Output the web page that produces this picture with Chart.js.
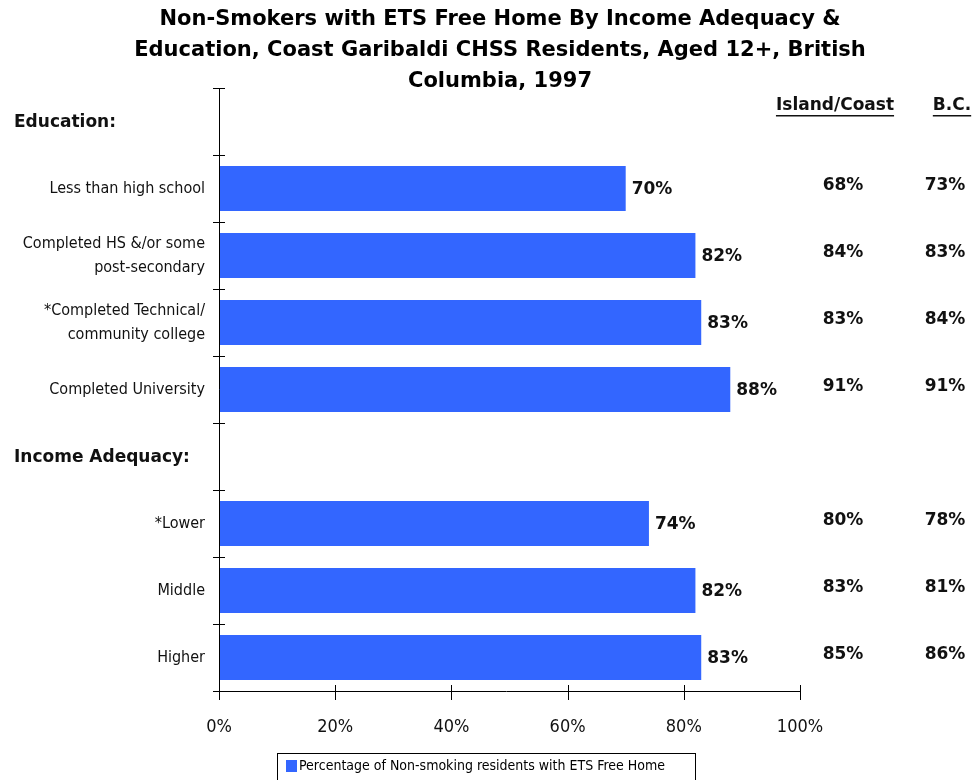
<!DOCTYPE html>
<html>
<head>
<meta charset="utf-8">
<script src="https://cdn.jsdelivr.net/npm/chart.js@4.4.0/dist/chart.umd.min.js"></script>
<style>
html,body{margin:0;padding:0;background:#fff;}
#wrap{width:975px;height:780px;position:relative;}
</style>
</head>
<body>
<div id="wrap"><canvas id="c" width="975" height="780"></canvas></div>
<script>
// ---- data ----
const titleLines = ['Non-Smokers with ETS Free Home By Income Adequacy &',
  'Education, Coast Garibaldi CHSS Residents, Aged 12+, British',
  'Columbia, 1997'];
const categories = ['', 'Less than high school', ['Completed HS &/or some','post-secondary'],
  ['*Completed Technical/','community college'], 'Completed University',
  '', '*Lower', 'Middle', 'Higher'];
const sectionHeaders = ['Education:', null, null, null, null, 'Income Adequacy:', null, null, null];
const garibaldi = [null, 70, 82, 83, 88, null, 74, 82, 83];
const islandCoast = [null, 68, 84, 83, 91, null, 80, 83, 85];
const bc = [null, 73, 83, 84, 91, null, 78, 81, 86];
const compareHeaders = ['Island/Coast', 'B.C.'];
const xTicks = [0, 20, 40, 60, 80, 100];
const seriesName = 'Percentage of Non-smoking residents with ETS Free Home';

const BLUE = '#3366FF';
const LABEL_FONT = '"DejaVu Sans Condensed", "DejaVu Sans", sans-serif';
const BOLD_FONT = '"DejaVu Sans", sans-serif';

const extras = {
  id: 'extras',
  afterDraw(chart) {
    const ctx = chart.ctx;
    const xs = chart.scales.x, ys = chart.scales.y;
    const ca = chart.chartArea;
    ctx.save();
    // title
    ctx.fillStyle = '#000';
    ctx.textAlign = 'center';
    ctx.textBaseline = 'middle';
    ctx.font = 'bold 21px ' + BOLD_FONT;
    titleLines.forEach((t, i) => ctx.fillText(t, 500, 20 + i * 31));

    // axis ticks crossing
    ctx.strokeStyle = '#000';
    ctx.lineWidth = 1;
    ctx.beginPath();
    const n = categories.length;
    for (let i = 0; i <= n; i++) {
      const y = Math.round(ys.getPixelForValue(i - 0.5)) + 0.5;
      ctx.moveTo(ca.left - 6, y); ctx.lineTo(ca.left + 6, y);
    }
    xTicks.forEach(v => {
      const x = Math.round(xs.getPixelForValue(v)) + 0.5;
      ctx.moveTo(x, ca.bottom - 6); ctx.lineTo(x, ca.bottom + 9);
    });
    ctx.moveTo(ca.left - 6, Math.round(ca.bottom) + 0.5);
    ctx.lineTo(ca.right, Math.round(ca.bottom) + 0.5);
    ctx.moveTo(Math.round(ca.left) + 0.5, ca.top);
    ctx.lineTo(Math.round(ca.left) + 0.5, ca.bottom);
    ctx.stroke();

    // section headers
    ctx.textAlign = 'left';
    ctx.font = 'bold 17px ' + BOLD_FONT;
    ctx.fillStyle = '#111';
    sectionHeaders.forEach((h, i) => {
      if (h) ctx.fillText(h, 14, ys.getPixelForValue(i) + 1);
    });

    // value labels
    ctx.font = 'bold 17px ' + BOLD_FONT;
    garibaldi.forEach((v, i) => {
      if (v == null) return;
      ctx.textAlign = 'left';
      ctx.fillText(v + '%', xs.getPixelForValue(v) + 6, ys.getPixelForValue(i) + 1);
    });
    ctx.textAlign = 'center';
    islandCoast.forEach((v, i) => {
      if (v == null) return;
      ctx.fillText(v + '%', 843, ys.getPixelForValue(i) - 3);
    });
    bc.forEach((v, i) => {
      if (v == null) return;
      ctx.fillText(v + '%', 945, ys.getPixelForValue(i) - 3);
    });

    // comparison headers (underlined)
    ctx.font = 'bold 17px ' + BOLD_FONT;
    [[compareHeaders[0], 835], [compareHeaders[1], 952]].forEach(([t, cx]) => {
      ctx.fillText(t, cx, 106);
      const w = ctx.measureText(t).width;
      ctx.fillRect(cx - w / 2, 115, w, 1.5);
    });

    // legend
    ctx.strokeStyle = '#000';
    ctx.lineWidth = 1;
    ctx.strokeRect(277.5, 753.5, 418, 40);
    ctx.fillStyle = BLUE;
    ctx.fillRect(286, 760, 11, 12);
    ctx.fillStyle = '#000';
    ctx.textAlign = 'left';
    ctx.font = '14px ' + LABEL_FONT;
    ctx.fillText(seriesName, 299, 766);
    ctx.restore();
  }
};

new Chart(document.getElementById('c'), {
  type: 'bar',
  data: {
    labels: categories,
    datasets: [{
      label: seriesName,
      data: garibaldi,
      backgroundColor: BLUE,
      borderWidth: 0,
      categoryPercentage: 1,
      barPercentage: 0.672
    }]
  },
  options: {
    indexAxis: 'y',
    responsive: false,
    animation: false,
    layout: { padding: { top: 88, right: 175, bottom: 0, left: 0 } },
    plugins: { legend: { display: false }, title: { display: false }, tooltip: { enabled: false } },
    scales: {
      x: {
        min: 0, max: 100,
        afterFit(s) { s.height = 89; },
        afterBuildTicks(s) { s.ticks = xTicks.map(v => ({ value: v })); },
        grid: { display: false, drawOnChartArea: false },
        border: { display: false },
        ticks: {
          padding: 18,
          color: '#111',
          font: { family: LABEL_FONT, size: 18 },
          callback: v => v + '%',
          maxRotation: 0
        }
      },
      y: {
        afterFit(s) { s.width = 219; },
        grid: { display: false, drawOnChartArea: false },
        border: { display: false },
        ticks: {
          padding: 6,
          color: '#111',
          font: { family: LABEL_FONT, size: 16, lineHeight: 1.5 },
          autoSkip: false
        }
      }
    }
  },
  plugins: [extras]
});
</script>
</body>
</html>
